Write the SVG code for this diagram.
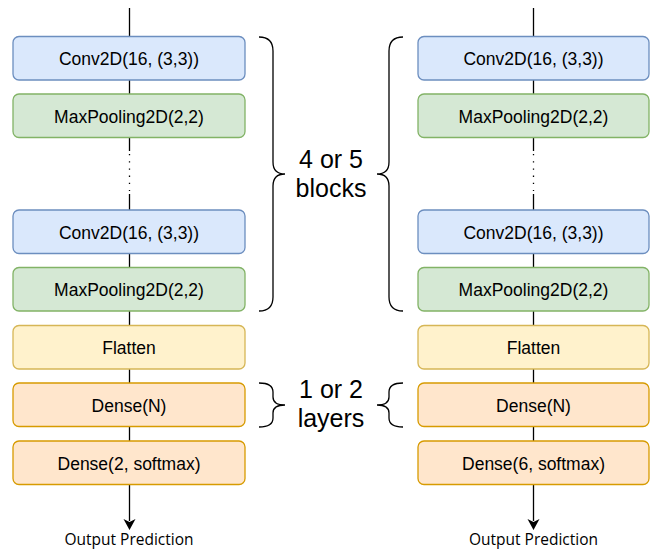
<svg xmlns="http://www.w3.org/2000/svg" width="657" height="550" viewBox="0 0 657 550">
<defs>
<style>
.box{stroke-width:1.3}
.conv{fill:#dae8fc;stroke:#6c8ebf}
.pool{fill:#d5e8d4;stroke:#82b366}
.flat{fill:#fff2cc;stroke:#d6b656}
.dense{fill:#ffe6cc;stroke:#d79b00}
.t{font-family:"Liberation Sans",Arial,sans-serif;font-size:17.5px;fill:#000;text-anchor:middle}
.lbl{font-family:"Liberation Sans",Arial,sans-serif;font-size:25px;fill:#000;text-anchor:middle}
.out{font-family:"Open Sans",sans-serif;font-size:15.5px;fill:#000;text-anchor:middle}
.ln{stroke:#000;stroke-width:1.3;fill:none}
.br{stroke:#000;stroke-width:1.3;fill:none}
</style>
</defs>

<g id="connectors">
<!-- left column -->
<line class="ln" x1="129.5" y1="8" x2="129.5" y2="36.5"/>
<line class="ln" x1="129.5" y1="80" x2="129.5" y2="94"/>
<line class="ln" x1="129.5" y1="137.5" x2="129.5" y2="151"/>
<line class="ln" x1="129.5" y1="154" x2="129.5" y2="191" stroke-dasharray="1.3 5.9"/>
<line class="ln" x1="129.5" y1="194" x2="129.5" y2="210"/>
<line class="ln" x1="129.5" y1="253.5" x2="129.5" y2="267.5"/>
<line class="ln" x1="129.5" y1="311" x2="129.5" y2="325.5"/>
<line class="ln" x1="129.5" y1="369" x2="129.5" y2="383"/>
<line class="ln" x1="129.5" y1="426.5" x2="129.5" y2="441"/>
<line class="ln" x1="129.5" y1="484.5" x2="129.5" y2="521"/>
<path d="M123.5,519 L129.5,530 L135.5,519 L129.5,522 Z" fill="#000"/>
<!-- right column -->
<line class="ln" x1="533.5" y1="8" x2="533.5" y2="36.5"/>
<line class="ln" x1="533.5" y1="80" x2="533.5" y2="94"/>
<line class="ln" x1="533.5" y1="137.5" x2="533.5" y2="151"/>
<line class="ln" x1="533.5" y1="154" x2="533.5" y2="191" stroke-dasharray="1.3 5.9"/>
<line class="ln" x1="533.5" y1="194" x2="533.5" y2="210"/>
<line class="ln" x1="533.5" y1="253.5" x2="533.5" y2="267.5"/>
<line class="ln" x1="533.5" y1="311" x2="533.5" y2="325.5"/>
<line class="ln" x1="533.5" y1="369" x2="533.5" y2="383"/>
<line class="ln" x1="533.5" y1="426.5" x2="533.5" y2="441"/>
<line class="ln" x1="533.5" y1="484.5" x2="533.5" y2="521"/>
<path d="M527.5,519 L533.5,530 L539.5,519 L533.5,522 Z" fill="#000"/>
</g>

<g id="left-column">
<g id="L-conv1"><rect class="box conv" x="13" y="36.5" width="232" height="43.5" rx="6"/><text class="t" x="129" y="65">Conv2D(16, (3,3))</text></g>
<g id="L-pool1"><rect class="box pool" x="13" y="94" width="232" height="43.5" rx="6"/><text class="t" x="129" y="122.5">MaxPooling2D(2,2)</text></g>
<g id="L-conv2"><rect class="box conv" x="13" y="210" width="232" height="43.5" rx="6"/><text class="t" x="129" y="238.5">Conv2D(16, (3,3))</text></g>
<g id="L-pool2"><rect class="box pool" x="13" y="267.5" width="232" height="43.5" rx="6"/><text class="t" x="129" y="296">MaxPooling2D(2,2)</text></g>
<g id="L-flatten"><rect class="box flat" x="13" y="325.5" width="232" height="43.5" rx="6"/><text class="t" x="129" y="354">Flatten</text></g>
<g id="L-dense"><rect class="box dense" x="13" y="383" width="232" height="43.5" rx="6"/><text class="t" x="129" y="411.5">Dense(N)</text></g>
<g id="L-dense-out"><rect class="box dense" x="13" y="441" width="232" height="43.5" rx="6"/><text class="t" x="129" y="469.5">Dense(2, softmax)</text></g>
<text id="L-output" class="out" x="129" y="545">Output Prediction</text>
</g>

<g id="right-column">
<g id="R-conv1"><rect class="box conv" x="418" y="36.5" width="231" height="43.5" rx="6"/><text class="t" x="533.5" y="65">Conv2D(16, (3,3))</text></g>
<g id="R-pool1"><rect class="box pool" x="418" y="94" width="231" height="43.5" rx="6"/><text class="t" x="533.5" y="122.5">MaxPooling2D(2,2)</text></g>
<g id="R-conv2"><rect class="box conv" x="418" y="210" width="231" height="43.5" rx="6"/><text class="t" x="533.5" y="238.5">Conv2D(16, (3,3))</text></g>
<g id="R-pool2"><rect class="box pool" x="418" y="267.5" width="231" height="43.5" rx="6"/><text class="t" x="533.5" y="296">MaxPooling2D(2,2)</text></g>
<g id="R-flatten"><rect class="box flat" x="418" y="325.5" width="231" height="43.5" rx="6"/><text class="t" x="533.5" y="354">Flatten</text></g>
<g id="R-dense"><rect class="box dense" x="418" y="383" width="231" height="43.5" rx="6"/><text class="t" x="533.5" y="411.5">Dense(N)</text></g>
<g id="R-dense-out"><rect class="box dense" x="418" y="441" width="231" height="43.5" rx="6"/><text class="t" x="533.5" y="469.5">Dense(6, softmax)</text></g>
<text id="R-output" class="out" x="533.5" y="545">Output Prediction</text>
</g>

<g id="braces">
<path class="br" d="M259,37 Q273,37 273,51 L273,162 Q273,174 285,174 Q273,174 273,186 L273,297 Q273,311 259,311"/>
<path class="br" d="M403,37 Q389,37 389,51 L389,162 Q389,174 377,174 Q389,174 389,186 L389,297 Q389,311 403,311"/>
<path class="br" d="M259,383 Q273,383 273,392 L273,397 Q273,405 285,405 Q273,405 273,413 L273,418 Q273,427 259,427"/>
<path class="br" d="M403,383 Q389,383 389,392 L389,397 Q389,405 377,405 Q389,405 389,413 L389,418 Q389,427 403,427"/>
</g>

<g id="labels">
<text class="lbl" x="331" y="168">4 or 5</text>
<text class="lbl" x="331" y="197">blocks</text>
<text class="lbl" x="331" y="398">1 or 2</text>
<text class="lbl" x="331" y="427">layers</text>
</g>
</svg>
